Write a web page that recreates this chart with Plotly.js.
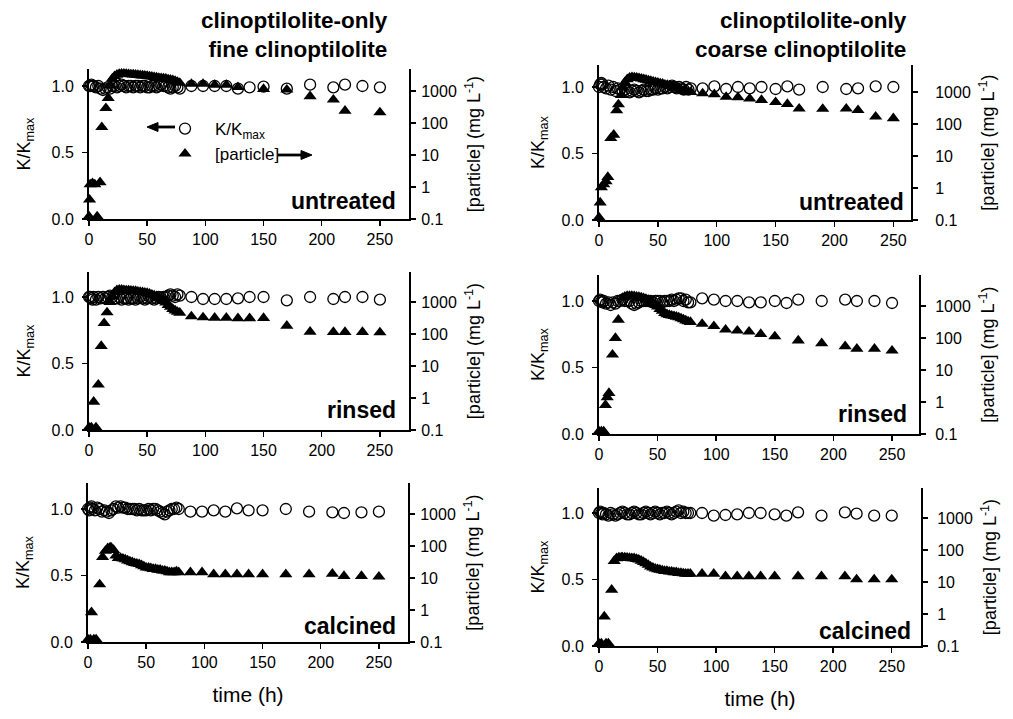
<!DOCTYPE html>
<html><head><meta charset="utf-8">
<script src="https://cdn.plot.ly/plotly-3.0.1.min.js"></script>
<style>html,body{margin:0;padding:0;background:#fff}#chart{width:1013px;height:719px}</style>
</head><body><div id="chart"></div>
<script>
// ---------- sampling times (h) ----------
const tKDense = [0,1,2,3,4,6,8,10,12,14,16,18,20,22,24,26,28,30,32,34,36,38,40,42,44,46,48,50,52,54,56,58,60,62,64,66,68,70,72,74,76,78];
const tBand = [20,22,24,26,28,30,32,34,36,38,40,42,44,46,48,50,52,54,56,58,60,62,64,66,68,70,72,74,76,78];
const tSparse = [88,98,108,118,128,138,150,170,190,210,220,235,250];
const tSparse160 = [88,98,108,118,128,138,150,160,170,190,210,220,235,250];

// ---------- fine clinoptilolite, untreated ----------
const kFineUntrDense = [1.00,1.00,1.01,1.00,1.00, 0.99,1.00,0.98,0.97,0.98, 0.99,0.98,1.00,1.00,0.99, 1.00,1.01,1.00,0.99,1.00, 1.00,0.99,1.00,1.00,0.99, 1.00,1.00,0.99,0.99,1.00, 1.00,0.99,1.00,1.01,1.00, 1.00,0.99,0.98,0.99,1.00, 0.99,0.98];
const kFineUntrSparse = [1.00,1.00,1.00,1.00,0.98,0.99,0.995,0.98,1.01,0.99,1.01,1.00,0.99];
const pFineUntrEarlyT = [0,0.5,1,3,5,7,9.5,11,14.5,16.5,18.5];
const pFineUntrEarly = [0.12,0.4,1.2,1.3,1.2,0.12,1.4,74,290,600,1500];
const pFineUntrBand = [2400,2900,3200,3400,3450,3450,3400,3350,3300,3250, 3200,3150,3100,3050,3000,2950,2850,2800,2700,2650, 2570,2500,2450,2400,2300,2240,2150,2050,1900,1780];
const pFineUntrLateT = [88,98,108,118,128,150,170,190,210,220,250];
const pFineUntrLate = [1660,1660,1550,1550,1320,1150,1100,680,535,240,213];

// ---------- coarse clinoptilolite, untreated ----------
const kCoarseUntrDense = [1.00,1.02,1.03,1.02,1.00, 0.99,1.01,0.98,1.00,0.97, 0.99,0.98,0.97,0.98,0.97, 0.96,0.97,0.98,0.97,0.96, 0.97,0.98,0.97,0.97,0.98, 0.98,0.99,0.98,0.99,0.99, 1.00,0.99,1.00,1.01,1.00, 0.99,1.00,0.99,0.98,1.00, 0.98,0.99];
const kCoarseUntrSparse = [0.99,1.005,0.985,1.00,0.99,1.00,0.985,1.005,0.98,1.00,0.985,0.99,1.005,1.00];
const pCoarseUntrEarlyT = [0,1,2,4,6,7.5,10,12.5,15,16.5,19];
const pCoarseUntrEarly = [0.12,0.35,1.05,1.3,1.6,2.2,36,46,265,410,800];
const pCoarseUntrBand = [1400,2000,2500,2800,2900,2850,2800,2700,2600,2500, 2400,2300,2200,2100,2000,1950,1850,1800,1700,1650, 1550,1500,1400,1350,1250,1150,1100,1050,1000,1000];
const pCoarseUntrLate = [900,850,700,680,620,560,480,420,300,295,300,270,170,150];

// ---------- fine clinoptilolite, rinsed ----------
const kFineRinsDense = [1.00,1.00,0.99,0.98,1.00, 0.98,1.00,0.99,1.00,0.99, 1.00,1.01,1.00,0.99,0.99, 1.00,0.98,0.99,0.99,0.98, 0.99,0.99,0.98,0.99,1.00, 0.99,0.98,0.99,1.00,0.99, 0.98,0.99,1.00,0.99,1.00, 1.00,1.01,1.02,1.01,1.00, 1.02,1.01];
const kFineRinsSparse = [1.00,0.985,0.985,0.985,0.99,1.00,1.00,0.975,1.00,0.985,1.00,1.00,0.98];
const pFineRinsEarlyT = [0,2,4,6,8,10.5,13,15.5,18];
const pFineRinsEarly = [0.12,0.12,0.76,0.12,2.6,42,218,470,1000];
const pFineRinsBand = [1500,2000,2350,2400,2400,2350,2300,2300,2250,2200, 2200,2100,2050,2000,1950,1900,1800,1700,1600,1500, 1400,1250,1140,950,800,700,600,540,490,460];
const pFineRinsLate = [355,330,320,320,310,310,315,180,117,115,115,115,112];

// ---------- coarse clinoptilolite, rinsed ----------
const kCoarseRinsDense = [1.00,1.01,1.00,0.99,1.00, 0.98,0.99,0.97,0.99,0.98, 1.00,1.00,1.01,1.00,1.00, 1.00,0.98,0.97,0.98,0.99, 1.00,1.00,1.00,1.00,1.00, 0.99,1.00,1.00,1.00,0.99, 1.00,1.00,1.00,1.01,1.00, 1.01,1.02,1.02,1.00,1.01, 0.99,0.99];
const kCoarseRinsSparse = [1.02,1.01,1.00,1.00,0.99,0.99,1.00,0.985,1.01,1.00,1.01,1.00,1.00,0.985];
const pCoarseRinsEarlyT = [0,2,4,5.5,7,8.5,11.5,14,16.5];
const pCoarseRinsEarly = [0.12,0.12,0.12,0.8,1.4,1.9,30,100,370];
const pCoarseRinsBand = [1780,1950,2050,2050,2050,2000,1950,1900,1850,1750, 1660,1550,1400,1230,1100,950,800,700,600,550, 520,500,480,460,440,410,380,350,330,316];
const pCoarseRinsLate = [275,235,182,170,158,133,112,83,68,55,46,46,40];

// ---------- fine clinoptilolite, calcined ----------
const kFineCalcDense = [1.00,0.99,1.01,1.02,1.00, 0.99,1.01,1.00,0.98,0.99, 0.98,0.97,0.99,1.00,1.02, 1.01,1.02,1.01,1.01,1.00, 1.00,1.00,1.00,0.99,1.00, 0.99,0.99,0.99,1.00,0.99, 1.00,1.00,0.99,0.98,0.97, 0.96,0.98,0.99,1.00,1.00, 1.01,1.00];
const kFineCalcSparse = [0.98,0.98,0.99,0.98,1.005,0.99,0.99,1.00,0.98,0.975,0.97,0.975,0.98];
const pFineCalcEarlyT = [0,2,3,5,7,10,12.5,15,17,19];
const pFineCalcEarly = [0.12,0.12,0.85,0.12,0.12,6.3,45,70,85,90];
const pFineCalcBand = [88,75,50,42,42,40,38,35,33,31, 29,28,27,25,23,21,21,20,19,19, 18,18,17,17,16,15,15,15,16,15];
const pFineCalcLate = [15,15,13,13,13,13,13,13,13,13.5,11.5,11.5,11];

// ---------- coarse clinoptilolite, calcined ----------
const kCoarseCalcDense = [1.00,1.01,1.00,0.99,1.00, 0.99,0.98,1.00,0.99,0.98, 0.99,1.00,1.01,1.00,0.99, 0.99,1.00,1.01,1.00,0.99, 0.99,1.00,1.01,1.00,0.99, 1.00,1.01,1.00,0.99,1.00, 1.00,1.01,1.00,0.99,1.00, 1.01,1.02,1.00,1.01,1.00, 1.00,1.00];
const kCoarseCalcSparse = [1.00,0.98,0.985,0.99,1.00,1.00,0.99,0.98,1.005,0.98,1.005,0.995,0.98,0.98];
const pCoarseCalcEarlyT = [0,2,4.5,6,8,10.8,13,15,17,19];
const pCoarseCalcEarly = [0.12,0.12,0.83,0.12,0.12,5.7,45,55,58,58];
const pCoarseCalcBand = [58,58,57,56,55,55,52,50,46,42, 38,34,30,28,26,25,24,23,22,22, 21,21,20,20,19,19,18.5,18,18,18];
const pCoarseCalcLate = [18,18,15,15,15,15,15,15,15,15,12,12,12];

// ---------- labels ----------
const colTitles = ["clinoptilolite-only<br>fine clinoptilolite","clinoptilolite-only<br>coarse clinoptilolite"];
const treatments = ["untreated","rinsed","calcined"];
const xTicks = [0,50,100,150,200,250];
const kTicks = [0,0.5,1];
const kTickText = ["0.0","0.5","1.0"];
const pTicks = [0.1,1,10,100,1000];
const pTickText = ["0.1","1","10","100","1000"];

// ---------- panel geometry (pixels) ----------
const W = 1013, H = 719;
const FONT = "Liberation Sans, Arial, Helvetica, sans-serif";
const panels = [
  {kT:tKDense.concat(tSparse), k:kFineUntrDense.concat(kFineUntrSparse),
   pT:pFineUntrEarlyT.concat(tBand, pFineUntrLateT), p:pFineUntrEarly.concat(pFineUntrBand, pFineUntrLate),
   px:[89,409], py:[69,219], xMax:275, col:0, row:0, rStand:2, lab:[398,201]},
  {kT:tKDense.concat(tSparse160), k:kCoarseUntrDense.concat(kCoarseUntrSparse),
   pT:pCoarseUntrEarlyT.concat(tBand, tSparse160), p:pCoarseUntrEarly.concat(pCoarseUntrBand, pCoarseUntrLate),
   px:[599,911], py:[65,220], xMax:265, col:1, row:0, rStand:14, lab:[906,202]},
  {kT:tKDense.concat(tSparse), k:kFineRinsDense.concat(kFineRinsSparse),
   pT:pFineRinsEarlyT.concat(tBand, tSparse), p:pFineRinsEarly.concat(pFineRinsBand, pFineRinsLate),
   px:[89,409], py:[272,430], xMax:275, col:0, row:1, rStand:2, lab:[398,410]},
  {kT:tKDense.concat(tSparse160), k:kCoarseRinsDense.concat(kCoarseRinsSparse),
   pT:pCoarseRinsEarlyT.concat(tBand, tSparse), p:pCoarseRinsEarly.concat(pCoarseRinsBand, pCoarseRinsLate),
   px:[599,919], py:[275,434], xMax:273, col:1, row:1, rStand:6, lab:[909,414]},
  {kT:tKDense.concat(tSparse), k:kFineCalcDense.concat(kFineCalcSparse),
   pT:pFineCalcEarlyT.concat(tBand, tSparse), p:pFineCalcEarly.concat(pFineCalcBand, pFineCalcLate),
   px:[88,408], py:[483,642], xMax:275, col:0, row:2, rStand:2, lab:[398,626]},
  {kT:tKDense.concat(tSparse160), k:kCoarseCalcDense.concat(kCoarseCalcSparse),
   pT:pCoarseCalcEarlyT.concat(tBand, tSparse), p:pCoarseCalcEarly.concat(pCoarseCalcBand, pCoarseCalcLate),
   px:[599,921], py:[488,646], xMax:275, col:1, row:2, rStand:6, lab:[913,631]}
];

const PX_PER_K = 133, PX_PER_DEC = 32;
const data = [];
const layout = {
  width: W, height: H, margin:{l:0,r:0,t:0,b:0},
  paper_bgcolor:'#fff', plot_bgcolor:'rgba(0,0,0,0)',
  font:{family:FONT, color:'#000', size:16},
  showlegend:true,
  legend:{x:155/W, xanchor:'left', y:1-111/H, yanchor:'top', bgcolor:'rgba(0,0,0,0)',
          font:{size:17, family:FONT, color:'#000'}, itemwidth:50, traceorder:'grouped', tracegroupgap:0},
  annotations:[], shapes:[], hovermode:false
};

function axBase(){
  return {showline:true, linewidth:2, linecolor:'#000', ticks:'outside', ticklen:5, tickwidth:1.5,
          tickcolor:'#000', showgrid:false, zeroline:false, tickfont:{family:FONT,size:16,color:'#000'}, automargin:false};
}

panels.forEach((P,i)=>{
  const n = i+1, yk = 2*n-1, yp = 2*n;
  const h = P.py[1]-P.py[0];
  const xa = Object.assign(axBase(), {domain:[P.px[0]/W, P.px[1]/W], anchor:'y'+yk, range:[0,P.xMax], tickvals:xTicks});
  if (P.row===2) xa.title = {text:'time (h)', font:{family:FONT,size:21,color:'#000'}, standoff:17};
  const ykA = Object.assign(axBase(), {domain:[1-P.py[1]/H, 1-P.py[0]/H], anchor:'x'+n, range:[0,h/PX_PER_K],
     tickvals:kTicks, ticktext:kTickText, ticklabelstandoff:5,
     title:{text:'K/K<sub>max</sub>', font:{family:FONT,size:18,color:'#000'}, standoff:P.col===0?16:12}});
  const ypA = Object.assign(axBase(), {overlaying:'y'+yk, side:'right', anchor:'x'+n, type:'log',
     range:[-1, -1+h/PX_PER_DEC], tickvals:pTicks, ticktext:pTickText, ticklabelstandoff:P.rStand,
     title:{text:'[particle] (mg L<sup>-1</sup>)', font:{family:FONT,size:18,color:'#000'}, standoff:12}});
  layout['xaxis'+n] = xa;
  layout['yaxis'+yk] = ykA;
  layout['yaxis'+yp] = ypA;

  data.push({type:'scatter', mode:'markers', x:P.kT, y:P.k, xaxis:'x'+n, yaxis:'y'+yk,
    name:'K/K<sub>max</sub>', legendgroup:'k', showlegend:n===1, cliponaxis:false,
    marker:{symbol:'circle-open', size:11, color:'#000', line:{width:1.3, color:'#000'}}});
  data.push({type:'scatter', mode:'markers', x:P.pT, y:P.p, xaxis:'x'+n, yaxis:'y'+yp,
    name:'[particle]', legendgroup:'p', showlegend:n===1, cliponaxis:false,
    marker:{symbol:'triangle-up', size:11.5, color:'#000'}});

  layout.annotations.push({xref:'paper', yref:'paper', x:P.lab[0]/W, y:1-P.lab[1]/H, xanchor:'right', yanchor:'middle',
    text:treatments[P.row], showarrow:false, font:{family:FONT, size:23, weight:'bold', color:'#000'}});
});

// column titles (two lines each)
[[390,35],[909,35]].forEach((c,ci)=>{
  layout.annotations.push({xref:'paper', yref:'paper', x:c[0]/W, y:1-c[1]/H, xanchor:'right', yanchor:'middle', align:'right',
    text:colTitles[ci], showarrow:false, font:{family:FONT, size:22.5, weight:'bold', color:'#000'}});
});

// legend arrows drawn as shapes (pixel geometry converted to paper fractions)
function fx(v){return v/W;} function fy(v){return 1-v/H;}
function arrow(tipX, tailX, y){
  const dir = tailX > tipX ? 1 : -1;
  const baseX = tipX + dir*10;
  layout.shapes.push({type:'line', xref:'paper', yref:'paper', x0:fx(baseX), x1:fx(tailX), y0:fy(y), y1:fy(y),
    line:{color:'#000', width:2.8}});
  layout.shapes.push({type:'path', xref:'paper', yref:'paper',
    path:`M ${fx(tipX)} ${fy(y)} L ${fx(baseX+dir)} ${fy(y-4.5)} L ${fx(baseX+dir)} ${fy(y+4.5)} Z`,
    fillcolor:'#000', line:{color:'#000', width:1}});
}
arrow(147, 175, 127);
arrow(312, 278, 155);

Plotly.newPlot('chart', data, layout, {staticPlot:true, displayModeBar:false});
</script>
</body></html>
